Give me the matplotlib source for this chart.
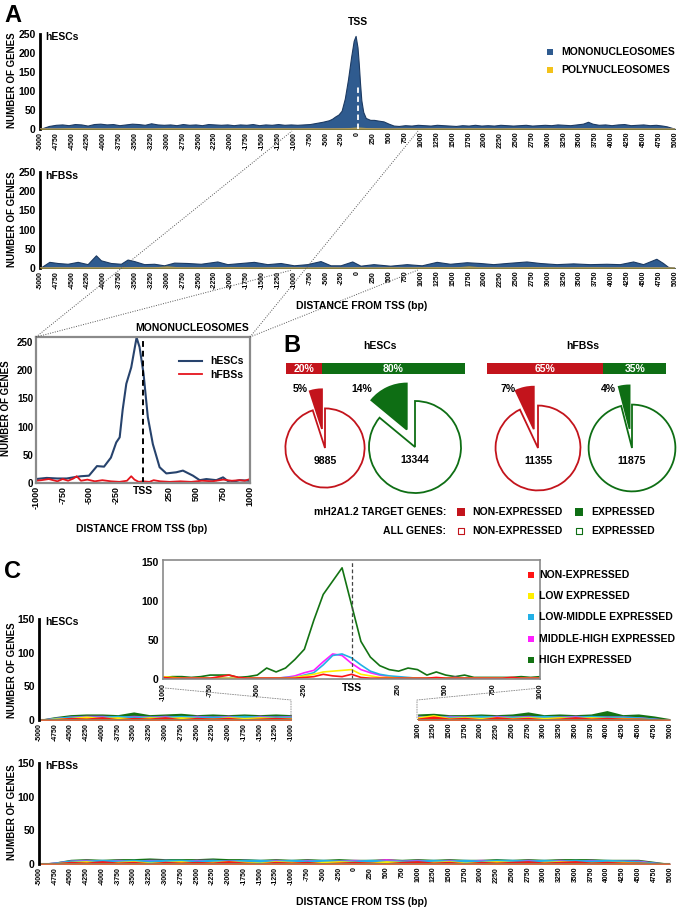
import numpy as np
import matplotlib
matplotlib.use("Agg")
import matplotlib.pyplot as plt

plt.rcParams['font.family'] = ['Liberation Sans', 'DejaVu Sans']
plt.rcParams['font.weight'] = 'bold'
plt.rcParams['axes.labelweight'] = 'bold'

# ---------------- DATA ----------------
# Panel A (top): hESCs mononucleosomes
mono_esc_x = [-5000,-4860,-4750,-4650,-4550,-4450,-4350,-4250,-4150,-4050,
              -3950,-3850,-3750,-3650,-3550,-3450,-3350,-3250,-3150,-3050,
              -2950,-2850,-2750,-2650,-2550,-2450,-2350,-2250,-2150,-2050,
              -1950,-1850,-1750,-1650,-1550,-1450,-1350,-1250,-1150,-1050,
              -950,-850,-750,-650,-550,-450,-400,-350,-300,-250,
              -200,-150,-100,-60,-30,0,20,40,60,90,
              130,200,260,330,410,490,570,650,750,850,
              950,1050,1150,1250,1350,1450,1550,1650,1750,1850,
              1950,2050,2150,2250,2350,2450,2550,2650,2750,2850,
              2950,3050,3150,3250,3350,3450,3550,3630,3700,3800,
              3900,4000,4100,4200,4300,4400,4500,4600,4700,4800,
              4870,4950,5000]
mono_esc_y = [0,8,11,12,10,13,12,9,13,14,
              12,13,10,12,14,13,11,15,12,11,
              12,10,13,11,12,10,13,12,11,12,
              10,12,11,13,10,12,11,13,11,12,
              11,12,13,16,19,23,27,33,38,48,
              80,130,190,232,245,215,172,120,76,45,
              29,24,24,22,20,14,9,8,10,9,
              11,10,9,11,10,9,8,10,9,11,
              9,10,9,11,10,9,10,11,9,10,
              11,10,12,11,10,12,14,19,14,11,
              12,10,12,13,10,11,12,10,11,9,
              7,3,0]
# Panel A (middle): hFBSs mononucleosomes
mono_fbs_x = [-5000,-4853,-4722,-4565,-4407,-4250,-4119,-4041,-3884,-3726,
              -3621,-3517,-3360,-3203,-3046,-2888,-2679,-2469,-2207,-2050,
              -1840,-1631,-1421,-1211,-1002,-792,-582,-425,-267,-83,
              47,252,514,776,1012,1247,1457,1719,1929,2138,
              2348,2662,2872,3134,3396,3658,3920,4130,4340,4497,
              4706,4811,4890,5000]
mono_fbs_y = [0,16,13,11,16,10,33,20,13,11,
              22,18,10,11,7,14,13,11,17,10,
              13,16,10,13,7,10,18,7,7,17,
              6,10,6,10,7,16,11,15,13,10,
              13,17,13,10,12,10,11,10,17,10,
              24,13,3,0]
# Polynucleosomes (both cell types), 250-bp bins
poly_x = np.arange(-5000, 5001, 250)
poly_esc = [2,2,4,3,2,3,3,2,4,3,3,2,3,3,2,3,2,3,2,3,5,3,2,3,2,3,2,3,3,2,3,2,3,2,3,3,2,3,2,2,1]
poly_fbs = [2,3,2,3,2,3,4,3,5,3,2,3,4,3,2,3,3,2,3,2,3,2,3,2,3,4,3,5,3,2,3,4,3,2,3,3,2,3,2,2,1]

# Panel A inset (mononucleosomes, -1000..1000)
ia_esc_x = [-1000,-900,-800,-713,-651,-580,-505,-430,-364,-300,-250,-218,-190,-156,-110,-60,
            -32,5,45,92,155,218,311,373,467,530,592,685,748,810,904,1000]
ia_esc_y = [7,9,8,8,10,12,13,30,29,45,72,81,130,176,205,258,
            241,194,117,69,28,17,19,22,13,5,7,5,10,1,5,4]
ia_fbs_x = [-1000,-950,-880,-800,-750,-700,-650,-620,-580,-520,-450,-380,-300,-220,-150,-110,
            -80,-40,0,60,100,160,250,350,450,550,650,750,830,900,950,1000]
ia_fbs_y = [4,5,7,3,7,4,8,12,4,6,3,5,3,2,4,12,
            6,2,3,2,5,3,2,3,2,4,3,6,4,5,4,7]

# Panel B
b_cells = ['hESCs', 'hFBSs']
b_target_non = [20, 65]          # % of target genes non-expressed
b_target_exp = [80, 35]
pie_totals = [9885, 13344, 11355, 11875]   # all genes: ESC non, ESC exp, FBS non, FBS exp
pie_pcts = [5, 14, 7, 4]

# Panel C categories
c_names = ['NON-EXPRESSED', 'LOW EXPRESSED', 'LOW-MIDDLE EXPRESSED',
           'MIDDLE-HIGH EXPRESSED', 'HIGH EXPRESSED']
c_colors = ['#ff1414', '#ffee00', '#22b0e6', '#ff1fff', '#137313']
# inset (-1000..1000, 50-bp bins)
ic_x = np.arange(-1000, 1001, 50)
ic_non  = [2,1,1,1,1,1,3,5,2,1,1,1,1,1,1,2,3,6,4,3,6,2,1,1,1,1,1,1,1,2,1,1,1,1,1,1,1,2,1,1,1]
ic_low  = [3,2,1,1,1,1,1,1,1,1,1,1,1,1,2,4,6,9,10,11,12,6,4,2,2,1,1,1,1,1,1,1,1,1,1,1,1,1,1,1,1]
ic_lmid = [1,1,1,1,1,1,1,1,1,1,1,1,1,2,2,5,8,18,30,32,27,18,10,6,4,3,2,1,1,1,1,1,1,1,1,1,1,1,1,1,1]
ic_mhi  = [1,1,1,1,1,1,2,1,1,1,1,1,1,2,4,8,11,22,32,30,20,12,8,5,3,2,1,1,1,1,1,2,1,1,1,1,1,1,1,1,1]
ic_high = [2,3,3,2,3,5,5,5,2,3,5,14,9,14,25,38,75,108,125,142,95,48,28,17,12,10,14,12,5,9,5,3,5,2,2,2,2,2,3,2,3]
# hESCs flanks (250-bp bins)
ce_left_x = np.arange(-5000, -999, 250)
ce_right_x = np.arange(1000, 5001, 250)
ce_left = {
    'high': [1,5,8,9,9,8,12,8,9,10,8,9,8,9,8,9,8],
    'mhi':  [1,4,6,7,7,6,7,6,7,6,7,6,7,6,7,6,7],
    'lmid': [1,4,6,6,6,7,6,6,6,7,6,6,6,7,6,6,6],
    'low':  [1,3,4,6,4,5,3,5,4,5,4,3,5,4,5,4,4],
    'non':  [1,2,4,3,5,2,4,3,5,2,4,3,4,2,3,4,3]}
ce_right = {
    'high': [9,10,8,8,9,8,9,12,8,9,8,9,14,8,9,6,2],
    'mhi':  [7,6,7,6,6,7,6,7,6,6,7,6,6,6,5,3,1],
    'lmid': [6,7,6,6,7,6,6,6,7,6,6,7,6,6,5,3,1],
    'low':  [5,8,4,5,4,5,4,5,4,5,4,5,4,4,3,2,1],
    'non':  [3,6,3,4,2,5,3,4,2,3,5,3,4,3,3,2,1]}
# hFBSs full range (250-bp bins)
cf_x = np.arange(-5000, 5001, 250)
cf = {
    'high': [1,3,7,8,7,8,8,9,8,8,8,9,8,8,7,8,7,8,7,8,7,7,8,7,8,7,8,7,7,8,7,8,7,8,8,8,7,7,7,4,1],
    'mhi':  [1,3,6,7,6,7,6,7,7,6,7,7,6,7,6,7,6,7,6,6,7,6,8,6,7,6,7,6,7,6,6,7,6,7,6,7,6,6,6,3,1],
    'lmid': [1,3,6,6,7,6,7,6,7,7,6,7,6,7,7,6,7,6,7,6,6,7,6,6,6,7,6,7,6,7,7,6,7,6,7,6,7,6,5,3,1],
    'low':  [1,2,4,5,3,4,5,3,4,5,3,4,5,4,3,5,4,3,4,5,4,3,5,4,3,4,5,3,4,5,4,3,4,5,4,3,4,4,3,2,1],
    'non':  [1,2,4,3,5,3,4,2,4,3,4,3,5,3,2,4,3,4,2,3,4,3,2,4,5,3,4,2,4,3,4,5,3,4,5,3,4,3,3,2,1]}
c_keys = ['non', 'low', 'lmid', 'mhi', 'high']

# ---------------- STYLE / LAYOUT ----------------
W, H = 680, 908
fig = plt.figure(figsize=(6.8, 9.08), dpi=100)

BLUE, DBLUE, GOLD = '#2f5b8f', '#1c3a62', '#f3c21a'
RED, GREEN = '#c3141c', '#0e6e14'
BASE = '#a0916b'

def px_axes(l, t, r, b, **kw):
    return fig.add_axes([l / W, 1 - b / H, (r - l) / W, (b - t) / H], **kw)

def wide_xticks(ax, ticks, fs=5):
    ax.set_xticks(ticks)
    ax.set_xticklabels([str(t) for t in ticks], rotation=90, fontsize=fs, fontweight='bold')
    ax.tick_params(axis='x', length=0, pad=2)

def left_spine_only(ax, yt, fs=7.5):
    for s in ['top', 'right', 'bottom']:
        ax.spines[s].set_visible(False)
    ax.spines['left'].set_linewidth(2)
    ax.set_yticks(yt)
    ax.set_yticklabels([str(v) for v in yt], fontsize=fs, fontweight='bold')
    ax.tick_params(axis='y', length=0, pad=3)
    ax.patch.set_alpha(0)

# ---- Panel A top
axA1 = px_axes(40, 34, 675, 129)
axA1.fill_between(mono_esc_x, mono_esc_y, color=BLUE, ec=DBLUE, lw=0.8, zorder=2)
axA1.fill_between(poly_x, poly_esc, color=GOLD, lw=0, zorder=3)
axA1.axhline(0, color=BASE, lw=1.2, zorder=4)
axA1.axvline(0, ymax=0.46, color='white', ls=(0, (3, 2)), lw=1.3, zorder=5)
axA1.set_xlim(-5000, 5000); axA1.set_ylim(0, 250)
left_spine_only(axA1, [0, 50, 100, 150, 200, 250])
wide_xticks(axA1, np.arange(-5000, 5001, 250))

# ---- Panel A middle
axA2 = px_axes(40, 172, 675, 268)
axA2.fill_between(mono_fbs_x, mono_fbs_y, color=BLUE, ec=DBLUE, lw=0.8, zorder=2)
axA2.fill_between(poly_x, poly_fbs, color=GOLD, lw=0, zorder=3)
axA2.axhline(0, color=BASE, lw=1.2, zorder=4)
axA2.set_xlim(-5000, 5000); axA2.set_ylim(0, 250)
left_spine_only(axA2, [0, 50, 100, 150, 200, 250])
wide_xticks(axA2, np.arange(-5000, 5001, 250))

# ---- Panel A inset
axIA = px_axes(36, 337, 250, 483)
axIA.plot(ia_esc_x, ia_esc_y, color='#27436d', lw=1.5, label='hESCs')
axIA.plot(ia_fbs_x, ia_fbs_y, color='#e5141c', lw=1.3, label='hFBSs')
axIA.axvline(0, color='black', ls=(0, (3, 2)), lw=1.4)
axIA.set_xlim(-1000, 1000); axIA.set_ylim(0, 259)
for s in axIA.spines.values():
    s.set_color('#8a8a8a'); s.set_linewidth(1.6)
axIA.set_yticks([0, 50, 100, 150, 200, 250])
axIA.set_yticklabels(['0', '50', '100', '150', '200', '250'], fontsize=7, fontweight='bold')
ia_ticks = [-1000, -750, -500, -250, 0, 250, 500, 750, 1000]
axIA.set_xticks(ia_ticks)
axIA.set_xticklabels(['TSS' if t == 0 else str(t) for t in ia_ticks], rotation=90,
                     fontsize=6.5, fontweight='bold')
for lab in axIA.get_xticklabels():
    if lab.get_text() == 'TSS':
        lab.set_rotation(0); lab.set_fontsize(7.5)
axIA.tick_params(length=0, pad=2)
axIA.legend(loc='upper right', bbox_to_anchor=(1.0, 0.91), frameon=False, fontsize=7.5,
            handlelength=2.2, labelspacing=0.3, borderaxespad=0.2)

# ---- Panel B bars
for i, (l, r) in enumerate([(286, 465), (487, 666)]):
    ax = px_axes(l, 363, r, 374)
    ax.barh([0], [b_target_non[i]], height=1, color=RED, lw=0)
    ax.barh([0], [b_target_exp[i]], left=[b_target_non[i]], height=1, color=GREEN, lw=0)
    ax.text(b_target_non[i] / 2, 0, f'{b_target_non[i]}%', color='white', ha='center',
            va='center', fontsize=7.5, fontweight='bold')
    ax.text(b_target_non[i] + b_target_exp[i] / 2, 0, f'{b_target_exp[i]}%', color='white',
            ha='center', va='center', fontsize=7.5, fontweight='bold')
    ax.set_xlim(0, 100); ax.set_ylim(-0.5, 0.5); ax.axis('off')

# ---- Panel B pies
pie_centers = [(325, 448), (415, 447), (538, 448), (632, 448)]
pie_cols = [RED, GREEN, RED, GREEN]
rmax = max(pie_totals)
for (cx, cy), tot, pct, col in zip(pie_centers, pie_totals, pie_pcts, pie_cols):
    ax = px_axes(cx - 69, cy - 69, cx + 69, cy + 69)
    ax.pie([pct, 100 - pct], radius=np.sqrt(tot / rmax), explode=[0.42, 0], startangle=90,
           counterclock=True, colors=[col, 'white'],
           wedgeprops=dict(edgecolor=col, linewidth=1.3))
    ax.set_xlim(-1.5, 1.5); ax.set_ylim(-1.5, 1.5); ax.set_aspect('equal')
    ax.text(0, -0.28, f'{tot}', ha='center', va='center', fontsize=7.5, fontweight='bold')
    ax.patch.set_alpha(0)

# ---- Panel C inset
axIC = px_axes(163, 560, 540, 679)
for vals, col in zip([ic_high, ic_mhi, ic_lmid, ic_low, ic_non],
                     [c_colors[4], c_colors[3], c_colors[2], c_colors[1], c_colors[0]]):
    axIC.plot(ic_x, vals, color=col, lw=1.2)
axIC.axvline(0, color='#444444', ls=(0, (3, 2)), lw=0.9)
axIC.set_xlim(-1000, 1000); axIC.set_ylim(0, 152)
for s in axIC.spines.values():
    s.set_color('#8a8a8a'); s.set_linewidth(1.2)
axIC.set_yticks([0, 50, 100, 150])
axIC.set_yticklabels(['0', '50', '100', '150'], fontsize=7.5, fontweight='bold')
axIC.set_xticks(ia_ticks)
axIC.set_xticklabels(['TSS' if t == 0 else str(t) for t in ia_ticks], rotation=90,
                     fontsize=5, fontweight='bold')
for lab in axIC.get_xticklabels():
    if lab.get_text() == 'TSS':
        lab.set_rotation(0); lab.set_fontsize(7.5)
axIC.tick_params(length=0, pad=3)

# ---- Panel C hESCs
axC1 = px_axes(39, 619, 670, 720)
order = ['high', 'mhi', 'lmid', 'low', 'non']
colmap = dict(zip(c_keys, c_colors))
for k in order:
    axC1.fill_between(ce_left_x, ce_left[k], color=colmap[k], lw=0)
    axC1.fill_between(ce_right_x, ce_right[k], color=colmap[k], lw=0)
axC1.plot([-5000, -1000], [0, 0], color='#9b7a55', lw=1.5)
axC1.plot([1000, 5000], [0, 0], color='#9b7a55', lw=1.5)
axC1.set_xlim(-5000, 5000); axC1.set_ylim(0, 150)
left_spine_only(axC1, [0, 50, 100, 150])
wide_xticks(axC1, list(ce_left_x) + list(ce_right_x))

# ---- Panel C hFBSs
axC2 = px_axes(39, 763, 670, 864)
for k in order:
    axC2.fill_between(cf_x, cf[k], color=colmap[k], lw=0)
axC2.axhline(0, color='#9b7a55', lw=1.5)
axC2.set_xlim(-5000, 5000); axC2.set_ylim(0, 150)
left_spine_only(axC2, [0, 50, 100, 150])
wide_xticks(axC2, cf_x)

# ---------------- OVERLAY (annotations) ----------------
ov = fig.add_axes([0, 0, 1, 1], zorder=10)
ov.set_xlim(0, W); ov.set_ylim(H, 0); ov.axis('off'); ov.patch.set_alpha(0)

def t(x, y, s, size=7.5, **kw):
    kw.setdefault('ha', 'left'); kw.setdefault('va', 'center')
    ov.text(x, y, s, fontsize=size, fontweight='bold', **kw)

# panel letters
t(4, 15, 'A', 17)
t(283, 346, 'B', 17)
t(4, 571, 'C', 17)
# y labels
for x, y in [(12, 80), (12, 219), (6, 408), (12, 670), (12, 812)]:
    t(x, y, 'NUMBER OF GENES', 7, rotation=90, ha='center')
# panel A texts
t(45, 37, 'hESCs', 7.5)
t(45, 176, 'hFBSs', 7.5)
t(358, 22, 'TSS', 7.5, ha='center')
ov.scatter([550, 550], [52, 70], marker='s', s=22, c=[BLUE, GOLD], lw=0)
t(561, 52, 'MONONUCLEOSOMES', 7.5)
t(561, 70, 'POLYNUCLEOSOMES', 7.5)
t(362, 306, 'DISTANCE FROM TSS (bp)', 7.5, ha='center')
t(192, 328, 'MONONUCLEOSOMES', 7.5, ha='center')
t(142, 529, 'DISTANCE FROM TSS (bp)', 7.5, ha='center')
# dotted connectors A
dot = dict(color='#555555', lw=0.7, ls=(0, (1, 1.5)))
ov.plot([36, 292], [337, 131], **dot)
ov.plot([36, 292], [337, 270], **dot)
ov.plot([250, 418], [337, 131], **dot)
ov.plot([250, 418], [337, 270], **dot)
# panel B texts
t(380, 346, b_cells[0], 7.5, ha='center')
t(583, 346, b_cells[1], 7.5, ha='center')
for x, p in zip([300, 362, 508, 608], pie_pcts):
    t(x, 389, f'{p}%', 7.5, ha='center')
t(446, 512, 'mH2A1.2 TARGET GENES:', 7.5, ha='right')
t(446, 531, 'ALL GENES:', 7.5, ha='right')
ov.scatter([461, 579], [512, 512], marker='s', s=28, c=[RED, GREEN], lw=0)
ov.scatter([461, 579], [531, 531], marker='s', s=24, facecolors='white',
           edgecolors=[RED, GREEN], lw=0.8)
t(472, 512, 'NON-EXPRESSED', 7.5); t(591, 512, 'EXPRESSED', 7.5)
t(472, 531, 'NON-EXPRESSED', 7.5); t(591, 531, 'EXPRESSED', 7.5)
# panel C texts
t(45, 622, 'hESCs', 7.5)
t(45, 766, 'hFBSs', 7.5)
for i, (name, col) in enumerate(zip(c_names, c_colors)):
    y = 575 + i * 21.2
    ov.scatter([531], [y], marker='s', s=20, c=[col], lw=0)
    t(539, y, name, 7.5)
t(362, 902, 'DISTANCE FROM TSS (bp)', 7.5, ha='center')
cdot = dict(color='#888888', lw=0.6, ls=(0, (2, 1)))
ov.plot([165, 291, 291], [688, 700, 719], **cdot)
ov.plot([540, 417, 417], [688, 700, 719], **cdot)

fig.savefig('out.png', dpi=100)
